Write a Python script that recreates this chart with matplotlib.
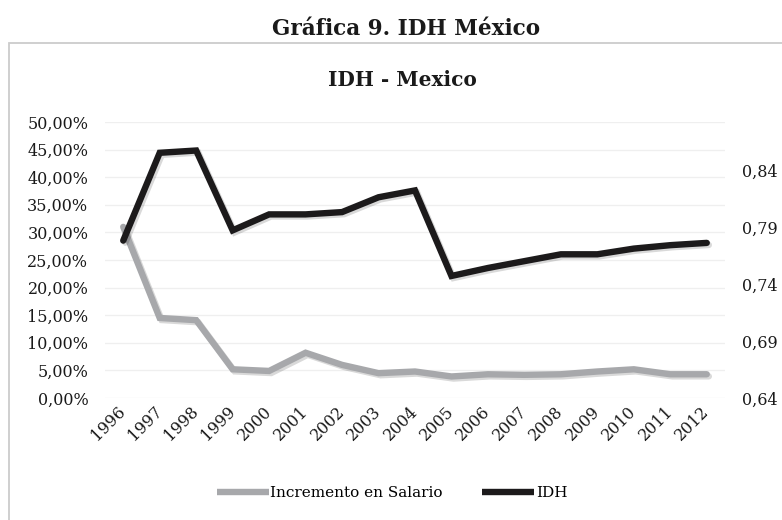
import matplotlib
matplotlib.use("Agg")
import matplotlib.pyplot as plt
import matplotlib.patheffects as pe
from matplotlib.patches import Rectangle
from matplotlib.ticker import FuncFormatter, FixedLocator

years = [str(y) for y in range(1996, 2013)]
salario = [31.0, 14.5, 14.1, 5.2, 4.9, 8.2, 6.0, 4.5, 4.8, 3.9, 4.3, 4.2, 4.3, 4.8, 5.2, 4.3, 4.3]
idh = [0.778, 0.855, 0.857, 0.787, 0.801, 0.801, 0.803, 0.816, 0.822, 0.747,
       0.754, 0.760, 0.766, 0.766, 0.771, 0.774, 0.776]
left_ticks = [0, 5, 10, 15, 20, 25, 30, 35, 40, 45, 50]
right_ticks = [0.64, 0.69, 0.74, 0.79, 0.84]

W, H = 782, 520
fig = plt.figure(figsize=(W / 100, H / 100), dpi=100)
fig.patch.set_facecolor("white")

# chart frame
fig.add_artist(Rectangle((8.5 / W, -0.1), 1.2, 1 - 42.5 / H + 0.1, transform=fig.transFigure,
                         fill=False, edgecolor="#cccccc", lw=1.3))

tick_font = {"family": "DejaVu Serif", "size": 11.5, "color": "#1a1a1a"}

fig.text(406 / W, 1 - 29 / H, "Gráfica 9. IDH México", ha="center", va="center",
         family="DejaVu Serif", fontweight="bold", fontsize=15.5, color="#1a1a1a")
fig.text(402 / W, 1 - 80 / H, "IDH - Mexico", ha="center", va="center",
         family="DejaVu Serif", fontweight="bold", fontsize=14.5, color="#1a1a1a")

ax = fig.add_axes([105 / W, 1 - 398 / H, 620 / W, 276 / H])
ax2 = ax.twinx()
x = list(range(len(years)))

shadow = [pe.SimpleLineShadow(offset=(1.5, -1.5), shadow_color="black", alpha=0.15), pe.Normal()]
l1, = ax.plot(x, salario, color="#a7a8ab", lw=4.6, solid_joinstyle="miter",
              solid_capstyle="round", path_effects=shadow, label="Incremento en Salario")
l2, = ax2.plot(x, idh, color="#1c1a1b", lw=4.6, solid_joinstyle="miter",
               solid_capstyle="round", path_effects=shadow, label="IDH")

ax.set_xlim(-0.5, len(years) - 0.5)
ax.set_ylim(0, 50)
ax2.set_ylim(0.64, 0.882)
ax.yaxis.set_major_locator(FixedLocator(left_ticks))
ax.yaxis.set_major_formatter(FuncFormatter(lambda v, p: f"{v:.2f}%".replace(".", ",")))
ax2.yaxis.set_major_locator(FixedLocator(right_ticks))
ax2.yaxis.set_major_formatter(FuncFormatter(lambda v, p: f"{v:.2f}".replace(".", ",")))
ax.set_xticks(x)
ax.set_xticklabels(years, rotation=45, ha="right", va="center", rotation_mode="anchor")

for a in (ax, ax2):
    for s in a.spines.values():
        s.set_visible(False)
    a.tick_params(length=0)
    for lab in a.get_xticklabels() + a.get_yticklabels():
        lab.set_fontfamily(tick_font["family"])
        lab.set_fontsize(tick_font["size"])
        lab.set_color(tick_font["color"])
ax.tick_params(axis="y", pad=12)
ax2.tick_params(axis="y", pad=12)
ax.tick_params(axis="x", pad=8)
ax.grid(axis="y", color="#efefef", lw=0.9)
ax.set_axisbelow(True)
ax.set_zorder(1)
ax2.set_zorder(2)
ax.patch.set_visible(False)
ax2.patch.set_visible(False)

leg = fig.legend([l1, l2], ["Incremento en Salario", "IDH"], loc="center",
                 bbox_to_anchor=(392 / W, 1 - 493 / H), ncol=2, frameon=False,
                 handlelength=3.4, handletextpad=0.1, columnspacing=2.6,
                 prop={"family": "DejaVu Serif", "size": 11})
for h in leg.legend_handles:
    h.set_path_effects([])
    h.set_solid_capstyle("butt")

fig.savefig("out.png", dpi=100, facecolor="white")
